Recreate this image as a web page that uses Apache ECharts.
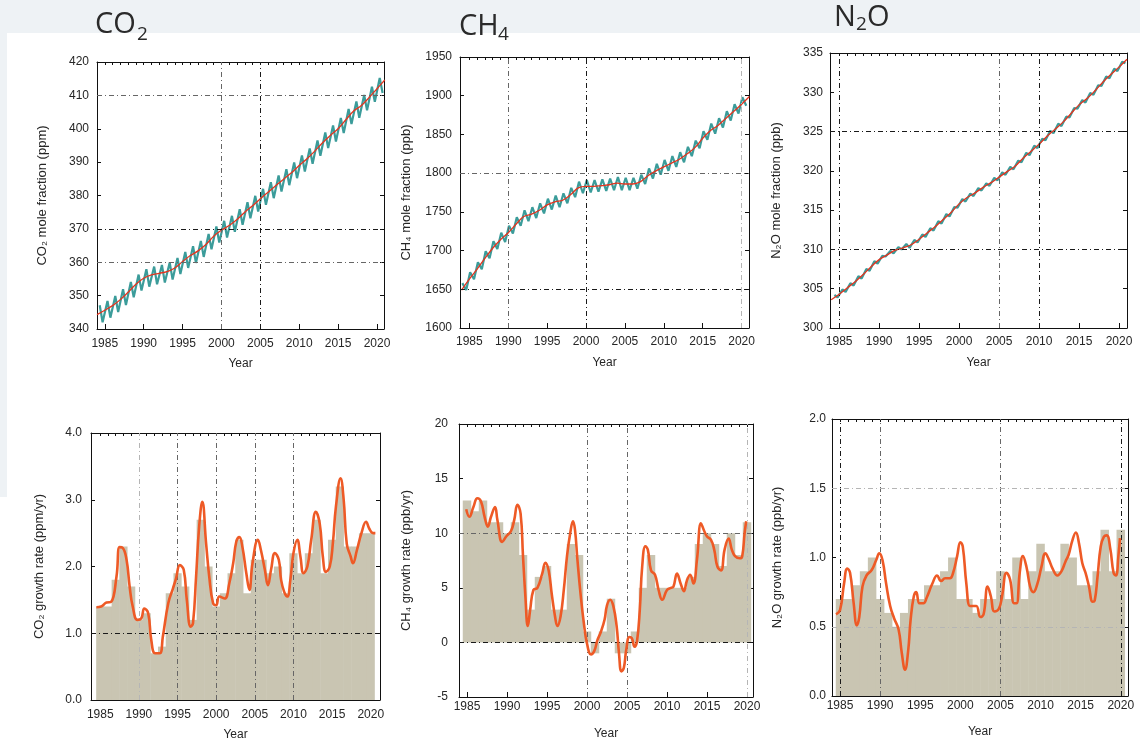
<!DOCTYPE html>
<html>
<head>
<meta charset="utf-8">
<title>Greenhouse gases</title>
<script src="https://cdn.jsdelivr.net/npm/echarts@6/dist/echarts.min.js"></script>
<style>
    html, body { margin: 0; padding: 0; background: #eef2f5; }
    #sheet { position: absolute; left: 7px; top: 33px; width: 1133px; height: 709px; background: #fff; }
    #strip { position: absolute; left: 0; top: 497px; width: 7px; height: 245px; background: #fff; }
    #chart { position: absolute; left: 0; top: 0; width: 1140px; height: 742px; }
</style>
</head>
<body>
<div id="sheet"></div>
<div id="strip"></div>
<div id="chart"></div>
<script>
// tick labels
var tickYears = [1985, 1990, 1995, 2000, 2005, 2010, 2015, 2020];

// mole fractions: trend values at 1 Jan of each year
var trendYears = [1984, 1985, 1986, 1987, 1988, 1989, 1990, 1991, 1992, 1993, 1994, 1995, 1996, 1997, 1998, 1999, 2000, 2001, 2002, 2003, 2004, 2005, 2006, 2007, 2008, 2009, 2010, 2011, 2012, 2013, 2014, 2015, 2016, 2017, 2018, 2019, 2020, 2021];
var co2Trend = [344.3, 345.6, 347.0, 348.8, 351.0, 353.4, 355.2, 356.2, 356.7, 357.2, 358.3, 360.2, 362.0, 363.4, 365.3, 367.8, 369.6, 371.0, 372.8, 375.0, 376.9, 379.0, 381.0, 383.0, 384.9, 386.8, 389.0, 391.0, 393.3, 395.8, 398.0, 400.0, 402.7, 405.3, 407.0, 409.4, 412.0, 414.6];
var ch4Trend = [1649, 1663, 1676, 1690, 1703, 1714, 1723, 1734, 1744, 1747, 1752, 1759, 1763, 1765, 1772, 1781, 1783, 1783, 1784, 1785, 1787, 1786, 1786, 1789, 1797, 1803, 1808, 1813, 1818, 1825, 1833, 1845, 1855, 1862, 1871, 1880, 1889, 1899];
var n2oTrend = [303.6, 304.3, 305.1, 305.9, 306.8, 307.8, 308.7, 309.3, 309.9, 310.2, 310.6, 311.3, 312.1, 312.9, 313.8, 314.7, 315.8, 316.6, 317.2, 317.9, 318.5, 319.2, 319.9, 320.6, 321.6, 322.5, 323.4, 324.4, 325.3, 326.2, 327.3, 328.4, 329.2, 330.2, 331.3, 332.3, 333.2, 334.2];

// monthly data, seasonal highs and lows of each year 1984-2020
var seasonYears = [1984, 1985, 1986, 1987, 1988, 1989, 1990, 1991, 1992, 1993, 1994, 1995, 1996, 1997, 1998, 1999, 2000, 2001, 2002, 2003, 2004, 2005, 2006, 2007, 2008, 2009, 2010, 2011, 2012, 2013, 2014, 2015, 2016, 2017, 2018, 2019, 2020];
var co2Peak = [347.1, 348.4, 349.9, 351.9, 354.1, 356.3, 357.9, 358.7, 359.2, 359.9, 361.3, 363.1, 364.8, 366.4, 368.5, 370.7, 372.4, 373.9, 375.9, 378.0, 379.9, 382.0, 384.0, 386.0, 387.9, 389.9, 392.0, 394.1, 396.5, 398.9, 401.0, 403.2, 405.9, 408.2, 410.1, 412.6, 415.2];
var co2Trough = [342.0, 343.4, 345.1, 347.2, 349.5, 351.5, 352.7, 353.4, 353.9, 354.8, 356.5, 358.3, 359.8, 361.6, 363.9, 365.9, 367.4, 369.1, 371.2, 373.2, 375.2, 377.2, 379.2, 381.2, 383.1, 385.2, 387.2, 389.5, 391.9, 394.2, 396.2, 398.7, 401.4, 403.3, 405.5, 408.1, 410.7];
var ch4Peak = [1658, 1672, 1685, 1699, 1712, 1723, 1732, 1743, 1752, 1756, 1761, 1767, 1771, 1774, 1781, 1789, 1791, 1791, 1792, 1793, 1795, 1794, 1794, 1798, 1806, 1812, 1817, 1822, 1827, 1834, 1842, 1854, 1864, 1871, 1880, 1889, 1898];
var ch4Trough = [1649, 1663, 1676, 1690, 1702, 1711, 1722, 1732, 1738, 1742, 1748, 1753, 1756, 1761, 1769, 1774, 1775, 1776, 1777, 1778, 1778, 1778, 1780, 1786, 1793, 1798, 1803, 1808, 1814, 1822, 1832, 1843, 1851, 1859, 1868, 1877, 1887];
var n2oPeak = [304.2, 304.9, 305.7, 306.6, 307.5, 308.5, 309.2, 309.8, 310.3, 310.7, 311.2, 311.9, 312.7, 313.6, 314.5, 315.4, 316.4, 317.1, 317.8, 318.4, 319.1, 319.8, 320.5, 321.3, 322.3, 323.2, 324.1, 325.1, 326.0, 326.9, 328.0, 329.0, 329.9, 330.9, 332.0, 333.0, 333.9];
var n2oTrough = [303.9, 304.6, 305.4, 306.3, 307.3, 308.2, 309.1, 309.5, 310.0, 310.2, 310.9, 311.6, 312.4, 313.3, 314.2, 315.3, 316.1, 316.8, 317.5, 318.1, 318.8, 319.5, 320.2, 321.1, 322.0, 322.9, 323.9, 324.8, 325.7, 326.8, 327.9, 328.7, 329.7, 330.8, 331.8, 332.7, 333.7];

// annual growth rates (bars)
var barYears = [1985, 1986, 1987, 1988, 1989, 1990, 1991, 1992, 1993, 1994, 1995, 1996, 1997, 1998, 1999, 2000, 2001, 2002, 2003, 2004, 2005, 2006, 2007, 2008, 2009, 2010, 2011, 2012, 2013, 2014, 2015, 2016, 2017, 2018, 2019, 2020];
var co2Bars = [1.4, 1.4, 1.8, 2.3, 1.7, 1.2, 1.3, 0.7, 0.8, 1.6, 1.9, 1.7, 1.2, 2.7, 2.0, 1.4, 1.6, 1.9, 2.4, 1.6, 2.1, 2.1, 1.9, 2.0, 1.6, 2.2, 1.9, 2.2, 2.7, 1.9, 2.4, 3.2, 2.3, 2.3, 2.5, 2.5];
var ch4Bars = [13, 12, 13, 11, 11, 10, 11, 8, 3, 6, 7, 3, 3, 9, 8, 1, -1, 1, 4, -1, -1, 1, 5, 8, 5, 5, 5, 5, 6, 9, 10, 9, 7, 10, 8, 11];
var n2oBars = [0.7, 0.7, 0.8, 0.9, 1.0, 0.7, 0.6, 0.5, 0.6, 0.7, 0.7, 0.8, 0.8, 0.9, 1.0, 0.7, 0.7, 0.6, 0.7, 0.7, 0.9, 0.7, 1.0, 0.7, 0.9, 1.1, 0.9, 0.9, 1.1, 1.0, 0.8, 0.8, 0.9, 1.2, 0.9, 1.2];

// growth rate curves
var co2RateX = [1984.5, 1985.1, 1985.8, 1986.4, 1987.1, 1987.5, 1987.9, 1988.4, 1988.8, 1989.2, 1989.8, 1990.3, 1990.7, 1991.2, 1991.6, 1992.1, 1992.7, 1993.1, 1993.8, 1994.4, 1994.8, 1995.3, 1995.8, 1996.2, 1996.7, 1997.0, 1997.4, 1997.8, 1998.2, 1998.7, 1999.1, 1999.6, 2000.0, 2000.4, 2001.1, 2001.7, 2002.2, 2002.6, 2003.0, 2003.4, 2003.9, 2004.3, 2004.7, 2005.4, 2005.8, 2006.3, 2006.7, 2007.1, 2007.6, 2008.1, 2008.4, 2008.8, 2009.2, 2009.6, 2010.0, 2010.5, 2010.9, 2011.3, 2011.8, 2012.3, 2012.9, 2013.4, 2013.8, 2014.2, 2014.7, 2015.1, 2015.5, 2016.1, 2016.5, 2016.9, 2017.4, 2017.7, 2018.2, 2018.8, 2019.4, 2019.8, 2020.3, 2020.6];
var co2RateY = [1.39, 1.40, 1.46, 1.47, 1.85, 2.29, 2.28, 2.10, 1.70, 1.40, 1.20, 1.22, 1.37, 1.30, 0.90, 0.70, 0.70, 0.95, 1.45, 1.67, 1.82, 2.02, 1.95, 1.50, 1.10, 1.15, 1.85, 2.60, 2.97, 2.34, 1.85, 1.45, 1.42, 1.55, 1.52, 1.75, 2.05, 2.37, 2.44, 2.29, 1.90, 1.65, 2.05, 2.40, 2.24, 1.95, 1.72, 1.95, 2.20, 2.10, 1.80, 1.62, 1.55, 1.80, 2.20, 2.40, 2.15, 1.90, 2.00, 2.40, 2.82, 2.64, 2.15, 1.92, 2.00, 2.35, 2.90, 3.32, 3.00, 2.34, 2.15, 2.05, 2.24, 2.50, 2.67, 2.57, 2.50, 2.50];
var ch4RateX = [1984.9, 1985.3, 1985.8, 1986.3, 1986.75, 1987.2, 1987.6, 1988.0, 1988.5, 1988.8, 1989.4, 1989.9, 1990.5, 1990.9, 1991.3, 1991.7, 1992.0, 1992.3, 1992.6, 1992.9, 1993.3, 1993.8, 1994.4, 1994.8, 1995.2, 1995.6, 1996.0, 1996.3, 1996.7, 1997.1, 1997.5, 1997.9, 1998.25, 1998.5, 1998.8, 1999.2, 1999.6, 2000.0, 2000.5, 2000.9, 2001.3, 2001.75, 2002.2, 2002.5, 2002.9, 2003.3, 2003.7, 2004.0, 2004.3, 2004.6, 2004.9, 2005.3, 2005.6, 2005.95, 2006.25, 2006.6, 2006.9, 2007.3, 2007.6, 2008.0, 2008.5, 2008.95, 2009.4, 2010.0, 2010.5, 2010.8, 2011.25, 2011.7, 2012.1, 2012.5, 2012.9, 2013.3, 2013.75, 2014.25, 2014.6, 2015.0, 2015.5, 2015.9, 2016.3, 2016.75, 2017.2, 2017.7, 2018.1, 2018.5, 2019.1, 2019.4, 2019.7, 2019.9];
var ch4RateY = [12.2, 11.5, 12.4, 13.2, 12.9, 11.5, 10.6, 11.5, 12.4, 11.2, 9.2, 9.7, 10.2, 11.2, 12.6, 11.8, 7.9, 4.2, 1.5, 3.0, 4.8, 5.0, 6.3, 7.3, 6.6, 4.4, 2.4, 1.5, 2.4, 4.8, 7.9, 10.0, 11.1, 10.3, 7.6, 4.4, 1.8, -0.1, -1.1, -0.8, 0.2, 1.0, 2.1, 3.4, 3.9, 3.3, 1.5, -1.0, -2.65, -2.35, -0.7, 0.5, 0.4, -0.4, 0.1, 3.0, 6.95, 8.8, 8.5, 6.6, 6.2, 4.8, 3.9, 4.8, 5.0, 5.1, 6.3, 5.4, 4.7, 5.7, 6.2, 5.4, 7.6, 10.9, 10.3, 9.7, 9.4, 8.5, 6.95, 6.6, 8.5, 9.5, 8.5, 7.9, 7.7, 7.9, 10.0, 11.1];
var n2oRateX = [1984.5, 1985.0, 1985.5, 1985.9, 1986.25, 1986.7, 1987.1, 1987.4, 1987.8, 1988.3, 1988.95, 1989.5, 1989.9, 1990.3, 1990.75, 1991.25, 1991.75, 1992.3, 1992.7, 1993.1, 1993.5, 1993.8, 1994.2, 1994.5, 1994.9, 1995.4, 1995.8, 1996.5, 1997.1, 1997.6, 1998.1, 1998.7, 1999.1, 1999.6, 2000.0, 2000.3, 2000.75, 2001.2, 2001.6, 2002.0, 2002.5, 2002.9, 2003.4, 2003.8, 2004.25, 2004.8, 2005.2, 2005.75, 2006.2, 2006.7, 2007.0, 2007.4, 2007.8, 2008.25, 2008.7, 2009.1, 2009.6, 2010.1, 2010.6, 2011.0, 2011.5, 2012.1, 2012.6, 2013.1, 2013.5, 2013.95, 2014.4, 2014.8, 2015.2, 2015.6, 2016.0, 2016.5, 2016.75, 2017.1, 2017.5, 2017.9, 2018.25, 2018.7, 2019.1, 2019.4, 2019.7, 2019.9];
var n2oRateY = [0.59, 0.62, 0.81, 0.92, 0.89, 0.67, 0.51, 0.57, 0.79, 0.87, 0.91, 0.98, 1.03, 0.98, 0.81, 0.65, 0.56, 0.48, 0.31, 0.19, 0.33, 0.55, 0.72, 0.75, 0.67, 0.67, 0.71, 0.81, 0.87, 0.83, 0.85, 0.85, 0.89, 1.01, 1.11, 1.08, 0.81, 0.65, 0.65, 0.65, 0.57, 0.59, 0.79, 0.72, 0.61, 0.63, 0.72, 0.89, 0.84, 0.67, 0.67, 0.89, 1.01, 0.93, 0.79, 0.75, 0.81, 0.93, 1.03, 0.99, 0.92, 0.87, 0.90, 0.97, 1.02, 1.12, 1.18, 1.10, 0.96, 0.89, 0.80, 0.68, 0.69, 0.86, 1.08, 1.15, 1.16, 1.06, 0.89, 0.87, 1.01, 1.14];

var TEXT = { color: '#262626', fontSize: 12, fontFamily: '"Liberation Sans", Arial, sans-serif' };
var TEAL = '#3b9c9a', RED = '#e3341f', ORANGE = '#ee5a26', BEIGE = '#c9c5b2';
var GRID_STYLE = {
    dark: { color: '#1a1a1a', width: 1, type: [5, 3, 1, 3] },
    mid: { color: '#666', width: 1, type: [5, 3, 1, 3] },
    light: { color: '#b5b5b5', width: 1, type: [5, 3, 1, 3] }
};

var allYears = trendYears.slice(1, 37);

function pairs(xs, ys) {
    return xs.map(function(x, i) { return [x, ys[i]]; });
}

// high in spring/winter, low in late summer
function seasonal(peaks, troughs, peakAt, troughAt) {
    var out = [];
    seasonYears.forEach(function(y, i) {
        out.push([y + peakAt, peaks[i]]);
        out.push([y + troughAt, troughs[i]]);
    });
    return out;
}

function gridMarks(gx, gy) {
    var data = [];
    gx.forEach(function(g) { data.push({ xAxis: g[0], lineStyle: GRID_STYLE[g[1]] }); });
    gy.forEach(function(g) { data.push({ yAxis: g[0], lineStyle: GRID_STYLE[g[1]] }); });
    return { silent: true, symbol: ['none', 'none'], label: { show: false }, data: data };
}

var grids = [], xAxes = [], yAxes = [], series = [];

function addPanel(p) {
    var k = grids.length;
    grids.push({ left: p.box[0], top: p.box[1], width: p.box[2], height: p.box[3] });
    var line = { show: true, onZero: false, lineStyle: { color: '#111', width: 1 } };
    xAxes.push({
        gridIndex: k, type: 'value', position: 'bottom', min: p.x[0], max: p.x[1],
        name: 'Year', nameLocation: 'middle', nameGap: p.xGap[1], nameTextStyle: TEXT,
        axisLine: line,
        axisTick: { inside: true, length: 5, customValues: tickYears, lineStyle: { color: '#111' } },
        axisLabel: Object.assign({
            customValues: tickYears, margin: p.xGap[0],
            formatter: function(v) { return String(v); }
        }, TEXT),
        splitLine: { show: false }
    });
    xAxes.push({
        gridIndex: k, type: 'value', position: 'top', min: p.x[0], max: p.x[1],
        axisLine: line,
        axisTick: { inside: true, length: 3, customValues: allYears, lineStyle: { color: '#111' } },
        axisLabel: { show: false }, splitLine: { show: false }
    });
    yAxes.push({
        gridIndex: k, type: 'value', position: 'left', min: p.y[0], max: p.y[1], interval: p.y[2],
        name: p.yName, nameLocation: 'middle', nameGap: p.yGap[1],
        nameTextStyle: Object.assign({}, TEXT, { fontSize: 13 }),
        axisLine: line,
        axisTick: { inside: true, length: 4, lineStyle: { color: '#111' } },
        axisLabel: Object.assign({
            margin: p.yGap[0],
            formatter: function(v) { return v.toFixed(p.dec); }
        }, TEXT),
        splitLine: { show: false }
    });
    yAxes.push({
        gridIndex: k, type: 'value', position: 'right', min: p.y[0], max: p.y[1], interval: p.y[2],
        axisLine: line,
        axisTick: { inside: true, length: 4, lineStyle: { color: '#111' } },
        axisLabel: { show: false }, splitLine: { show: false }
    });
    return 2 * k;
}

function fractionPanel(p, trend, peaks, troughs, peakAt, troughAt) {
    var a = addPanel(p);
    series.push({
        type: 'line', xAxisIndex: a, yAxisIndex: a, data: seasonal(peaks, troughs, peakAt, troughAt),
        showSymbol: false, lineStyle: { color: TEAL, width: 2.2 }, z: 2,
        markLine: gridMarks(p.gx, p.gy)
    });
    series.push({
        type: 'line', xAxisIndex: a, yAxisIndex: a, data: pairs(trendYears, trend),
        smooth: 0.4, showSymbol: false, lineStyle: { color: RED, width: 1.3 }, z: 4
    });
}

function ratePanel(p, bars, rx, ry) {
    var a = addPanel(p);
    series.push({
        type: 'bar', xAxisIndex: a, yAxisIndex: a, data: pairs(barYears, bars),
        barWidth: '106%', itemStyle: { color: BEIGE }, z: 1,
        markLine: gridMarks(p.gx, p.gy)
    });
    series.push({
        type: 'line', xAxisIndex: a, yAxisIndex: a, data: pairs(rx, ry),
        smooth: 0.45, showSymbol: false, lineStyle: { color: ORANGE, width: 2.6 }, z: 6
    });
}

fractionPanel({ box: [97, 62, 287, 267], x: [1984, 2020.9], y: [340, 420, 10], dec: 0,
    yName: 'CO₂ mole fraction (ppm)', xGap: [9, 29], yGap: [8, 48],
    gx: [[2000, 'mid'], [2005, 'dark']], gy: [[410, 'mid'], [370, 'dark'], [360, 'mid']] },
    co2Trend, co2Peak, co2Trough, 0.35, 0.72);

fractionPanel({ box: [460, 57, 289, 271], x: [1983.8, 2020.95], y: [1600, 1950, 50], dec: 0,
    yName: 'CH₄ mole fraction (ppb)', xGap: [8, 29], yGap: [8, 47],
    gx: [[1990, 'mid'], [2000, 'dark'], [2020, 'light']], gy: [[1800, 'mid'], [1650, 'dark']] },
    ch4Trend, ch4Peak, ch4Trough, 0.1, 0.6);

fractionPanel({ box: [830, 53, 297, 275], x: [1983.85, 2021], y: [300, 335, 5], dec: 0,
    yName: 'N₂O mole fraction (ppb)', xGap: [8, 29], yGap: [7, 47],
    gx: [[1985, 'dark'], [2005, 'mid'], [2010, 'dark']], gy: [[325, 'dark'], [310, 'dark']] },
    n2oTrend, n2oPeak, n2oTrough, 0.4, 0.8);

ratePanel({ box: [91, 433, 289, 267], x: [1983.8, 2021.2], y: [0, 4, 1], dec: 1,
    yName: 'CO₂ growth rate (ppm/yr)', xGap: [9, 29], yGap: [9, 45],
    gx: [[1990, 'light'], [1995, 'mid'], [2000, 'mid'], [2005, 'mid'], [2010, 'mid']], gy: [[1, 'dark']] },
    co2Bars, co2RateX, co2RateY);

ratePanel({ box: [459, 424, 294, 273], x: [1984, 2020.75], y: [-5, 20, 5], dec: 0,
    yName: 'CH₄ growth rate (ppb/yr)', xGap: [4, 31], yGap: [11, 46],
    gx: [[2000, 'mid'], [2005, 'mid'], [2020, 'light']], gy: [[10, 'mid'], [0, 'dark']] },
    ch4Bars, ch4RateX, ch4RateY);

ratePanel({ box: [832, 419, 296, 277], x: [1984, 2020.9], y: [0, 2, 0.5], dec: 1,
    yName: 'N₂O growth rate (ppb/yr)', xGap: [4, 30], yGap: [6, 48],
    gx: [[1985, 'dark'], [1990, 'mid'], [2005, 'mid'], [2020, 'dark']], gy: [[1.5, 'light'], [0.5, 'light']] },
    n2oBars, n2oRateX, n2oRateY);

// panel headings with subscripts
var HEAD = { fill: '#2a2a2a', fontFamily: '"Open Sans", "Noto Sans", sans-serif', textVerticalAlign: 'middle' };
function head(x, y, text, size) {
    return { type: 'text', left: x, top: y, style: Object.assign({ text: text, fontSize: size }, HEAD) };
}

var option = {
    animation: false,
    backgroundColor: 'transparent',
    grid: grids,
    xAxis: xAxes,
    yAxis: yAxes,
    series: series,
    graphic: [
        head(95, 10, 'CO', 29), head(137, 25, '2', 19),
        head(459, 12, 'CH', 29), head(498, 25, '4', 19),
        head(834, 3, 'N', 29), head(856, 15, '2', 19), head(867, 3, 'O', 29)
    ]
};

var chart = echarts.init(document.getElementById('chart'));
chart.setOption(option);
</script>
</body>
</html>
